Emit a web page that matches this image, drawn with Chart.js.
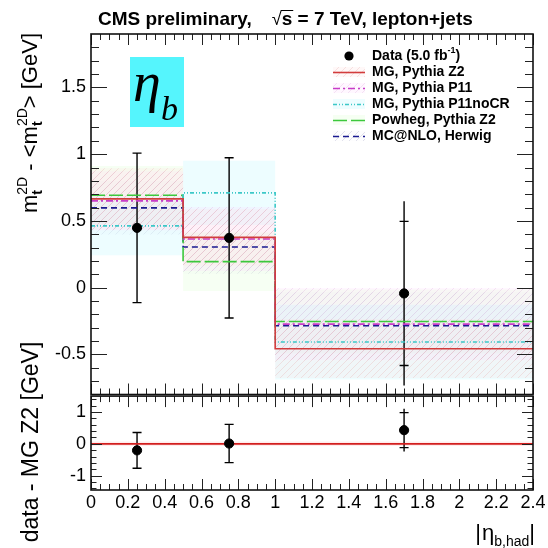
<!DOCTYPE html>
<html><head><meta charset="utf-8">
<script src="https://cdn.jsdelivr.net/npm/chart.js@4.4.1/dist/chart.umd.min.js"></script>
<style>html,body{margin:0;padding:0;background:#fff;}canvas{display:block;}</style>
</head><body>
<canvas id="c" width="548" height="548" style="width:548px;height:548px"></canvas>
<script>
// ---------------- data ----------------
const binEdges = [0, 0.5, 1.0, 2.4];
const xTickValues = [0, 0.2, 0.4, 0.6, 0.8, 1, 1.2, 1.4, 1.6, 1.8, 2, 2.2, 2.4];
const yTopTicks = [-0.5, 0, 0.5, 1, 1.5];
const yBotTicks = [-1, 0, 1];

const dataX = [0.25, 0.75, 1.70];
const dataY = [0.448, 0.373, -0.043];
const dataErrStat = [0.56, 0.60, 0.54];
const dataErrTot = [0.56, 0.60, 0.69];

const modelNames = ["MG, Pythia Z2", "MG, Pythia P11", "MG, Pythia P11noCR", "Powheg, Pythia Z2", "MC@NLO, Herwig"];
const mgZ2 = [0.665, 0.377, -0.457];
const mgZ2Unc = [0.23, 0.21, 0.22];
const mgP11 = [0.650, 0.365, -0.273];
const mgP11Unc = [0.22, 0.24, 0.27];
const mgP11noCR = [0.463, 0.710, -0.407];
const mgP11noCRUnc = [0.22, 0.24, 0.28];
const powhegZ2 = [0.692, 0.195, -0.253];
const powhegZ2Unc = [0.22, 0.22, 0.24];
const mcnloHerwig = [0.598, 0.305, -0.285];
const mcnloHerwigUnc = [0.20, 0.20, 0.25];

const diffY = [-0.205, 0.01, 0.43];
const diffErrStat = [0.56, 0.60, 0.55];
const diffErrTot = [0.56, 0.60, 0.67];
const refValue = 0;
const refUnc = 0.07;

// ---------------- styles ----------------
const F = '"Liberation Sans", Arial, Helvetica, sans-serif';
function hatch(bg, line) {
  const c = document.createElement('canvas'); c.width = 7; c.height = 7;
  const g = c.getContext('2d');
  g.fillStyle = bg; g.fillRect(0, 0, 7, 7);
  if (line) { g.strokeStyle = line; g.lineWidth = 1;
    g.beginPath(); g.moveTo(-1, 8); g.lineTo(8, -1); g.moveTo(-1, 1); g.lineTo(1, -1); g.moveTo(6, 8); g.lineTo(8, 6); g.stroke(); }
  return document.getElementById('c').getContext('2d').createPattern(c, 'repeat');
}
const models = [
  {name: modelNames[0], vals: mgZ2, unc: mgZ2Unc, color: '#d23c3c', dash: [], band: hatch('rgba(255,220,220,0.2)', 'rgba(225,160,160,0.28)')},
  {name: modelNames[1], vals: mgP11, unc: mgP11Unc, color: '#c83cc8', dash: [7, 3, 2, 3], band: hatch('rgba(255,215,255,0.2)', 'rgba(210,160,210,0.25)')},
  {name: modelNames[2], vals: mgP11noCR, unc: mgP11noCRUnc, color: '#3cc8c8', dash: [4, 2, 1, 2, 1, 2], band: hatch('rgba(215,250,255,0.45)', null)},
  {name: modelNames[3], vals: powhegZ2, unc: powhegZ2Unc, color: '#3cc83c', dash: [14, 4], band: hatch('rgba(230,255,220,0.35)', null)},
  {name: modelNames[4], vals: mcnloHerwig, unc: mcnloHerwigUnc, color: '#1a1a90', dash: [6, 4], band: hatch('rgba(235,235,250,0.12)', 'rgba(160,160,195,0.3)')}
];

function steps(vals) {
  const pts = vals.map((v, i) => ({x: binEdges[i], y: v}));
  pts.push({x: binEdges[binEdges.length - 1], y: vals[vals.length - 1]});
  return pts;
}

const datasets = [];
datasets.push({label: 'Data', data: dataX.map((x, i) => ({x, y: dataY[i]})), yAxisID: 'yTop', showLine: false,
  pointRadius: 4.6, pointBackgroundColor: '#000', pointBorderColor: '#000', order: 0});
datasets.push({label: 'diff', data: dataX.map((x, i) => ({x, y: diffY[i]})), yAxisID: 'yBot', showLine: false,
  pointRadius: 4.6, pointBackgroundColor: '#000', pointBorderColor: '#000', order: 0});
models.forEach(m => {
  datasets.push({label: m.name + ' up', data: steps(m.vals.map((v, i) => v + m.unc[i])), yAxisID: 'yTop', stepped: true,
    borderWidth: 0, borderColor: 'transparent', pointRadius: 0, fill: false, order: 2});
  datasets.push({label: m.name + ' down', data: steps(m.vals.map((v, i) => v - m.unc[i])), yAxisID: 'yTop', stepped: true,
    borderWidth: 0, borderColor: 'transparent', pointRadius: 0, fill: '-1', backgroundColor: m.band, order: 2});
});
models.forEach(m => {
  datasets.push({label: m.name, data: steps(m.vals), yAxisID: 'yTop', stepped: true, borderColor: m.color,
    borderWidth: 1.6, borderDash: m.dash, pointRadius: 0, fill: false, order: 1});
});
datasets.push({label: 'ref up', data: [{x: 0, y: refValue + refUnc}, {x: 2.4, y: refValue + refUnc}], yAxisID: 'yBot',
  borderWidth: 0, borderColor: 'transparent', pointRadius: 0, fill: false, order: 2});
datasets.push({label: 'ref down', data: [{x: 0, y: refValue - refUnc}, {x: 2.4, y: refValue - refUnc}], yAxisID: 'yBot',
  borderWidth: 0, borderColor: 'transparent', pointRadius: 0, fill: '-1', backgroundColor: 'rgba(255,200,200,0.35)', order: 2});
datasets.push({label: 'ref', data: [{x: 0, y: refValue}, {x: 2.4, y: refValue}], yAxisID: 'yBot',
  borderWidth: 1.6, borderColor: '#d21e1e', pointRadius: 0, fill: false, order: 1});

// ---------------- helpers ----------------
function errBars(ctx, xs, ys, xArr, yArr, stat, tot) {
  ctx.save(); ctx.strokeStyle = '#000'; ctx.lineWidth = 1.4;
  for (let i = 0; i < xArr.length; i++) {
    const px = xs.getPixelForValue(xArr[i]);
    ctx.beginPath();
    ctx.moveTo(px, ys.getPixelForValue(yArr[i] + tot[i]));
    ctx.lineTo(px, ys.getPixelForValue(yArr[i] - tot[i]));
    [yArr[i] + stat[i], yArr[i] - stat[i]].forEach(v => {
      const py = ys.getPixelForValue(v); ctx.moveTo(px - 4.5, py); ctx.lineTo(px + 4.5, py);
    });
    ctx.stroke();
  }
  ctx.restore();
}
function panel(ctx, xs, ys, top, bottom, yMajor, yStep, yMaj, yMin, xMaj, xMin) {
  const L = xs.left, R = xs.right;
  ctx.save(); ctx.strokeStyle = '#222'; ctx.lineWidth = 1;
  ctx.beginPath();
  yMajor.forEach(v => { const p = Math.round(ys.getPixelForValue(v)) + 0.5;
    ctx.moveTo(L, p); ctx.lineTo(L + yMaj, p); ctx.moveTo(R, p); ctx.lineTo(R - yMaj, p); });
  for (let k = Math.ceil(ys.min / yStep); k * yStep <= ys.max + 1e-9; k++) {
    const v = k * yStep; if (yMajor.some(m => Math.abs(m - v) < 1e-6)) continue;
    const p = Math.round(ys.getPixelForValue(v)) + 0.5;
    if (p < top + 1 || p > bottom - 1) continue;
    ctx.moveTo(L, p); ctx.lineTo(L + yMin, p); ctx.moveTo(R, p); ctx.lineTo(R - yMin, p);
  }
  xTickValues.forEach(v => { const p = Math.round(xs.getPixelForValue(v)) + 0.5;
    ctx.moveTo(p, bottom); ctx.lineTo(p, bottom - xMaj); ctx.moveTo(p, top); ctx.lineTo(p, top + xMaj); });
  for (let k = 0; k * 0.05 <= 2.4 + 1e-9; k++) {
    if (k % 4 === 0) continue;
    const p = Math.round(xs.getPixelForValue(k * 0.05)) + 0.5;
    ctx.moveTo(p, bottom); ctx.lineTo(p, bottom - xMin); ctx.moveTo(p, top); ctx.lineTo(p, top + xMin);
  }
  ctx.stroke();
  ctx.lineWidth = 1.6; ctx.strokeStyle = '#111';
  ctx.strokeRect(L, top, R - L, bottom - top);
  ctx.restore();
}
function rich(ctx, parts, x, y, draw) {
  let cx = x;
  parts.forEach(p => {
    if (p.stack) {
      let w = 0;
      p.stack.forEach(s => { ctx.font = (s.bold ? 'bold ' : '') + s.size + 'px ' + F;
        if (draw) ctx.fillText(s.t, cx, y + s.dy); w = Math.max(w, ctx.measureText(s.t).width); });
      cx += w;
    } else {
      ctx.font = (p.bold ? 'bold ' : '') + (p.italic ? 'italic ' : '') + p.size + 'px ' + (p.family || F);
      if (draw) ctx.fillText(p.t, cx, y + (p.dy || 0));
      cx += ctx.measureText(p.t).width + (p.after || 0);
    }
  });
  return cx - x;
}

const decor = {
  id: 'decor',
  beforeDatasetsDraw(chart) {
    const ctx = chart.ctx, xs = chart.scales.x;
    errBars(ctx, xs, chart.scales.yTop, dataX, dataY, dataErrStat, dataErrTot);
    errBars(ctx, xs, chart.scales.yBot, dataX, diffY, diffErrStat, diffErrTot);
  },
  afterDraw(chart) {
    const ctx = chart.ctx, xs = chart.scales.x, yt = chart.scales.yTop, yb = chart.scales.yBot;
    panel(ctx, xs, yt, yt.top, yt.bottom, yTopTicks, 0.1, 16, 8, 11, 6);
    panel(ctx, xs, yb, yb.getPixelForValue(1.5), yb.bottom, yBotTicks, 0.2, 11, 5.5, 11, 6);
    ctx.save();
    ctx.fillStyle = '#000'; ctx.textBaseline = 'alphabetic'; ctx.textAlign = 'left';
    // title
    const TS = 19, gap = 20, tx0 = 98;
    const tp = [
      {t: 'CMS preliminary,', size: TS, bold: true, after: gap},
      {t: '\u221A', size: 18},
      {t: 's', size: TS, bold: true},
      {t: ' = 7 TeV, lepton+jets', size: TS, bold: true}
    ];
    rich(ctx, tp, tx0, 25, true);
    ctx.font = 'bold ' + TS + 'px ' + F;
    const sx = tx0 + ctx.measureText('CMS preliminary,').width + gap;
    ctx.font = '18px ' + F; const rw = ctx.measureText('\u221A').width;
    ctx.font = 'bold ' + TS + 'px ' + F; const swd = ctx.measureText('s').width;
    ctx.lineWidth = 1; ctx.strokeStyle = '#000';
    ctx.beginPath(); ctx.moveTo(sx + rw - 1, 10.5); ctx.lineTo(sx + rw + swd + 1, 10.5); ctx.stroke();

    // y titles (rotated)
    const up = [
      {t: 'm', size: 22}, {stack: [{t: 't', size: 14, dy: 5, bold: true}, {t: '2D', size: 14, dy: -10}]},
      {t: ' - <m', size: 22}, {stack: [{t: 't', size: 14, dy: 5, bold: true}, {t: '2D', size: 14, dy: -10}]},
      {t: '> [GeV]', size: 22}
    ];
    const wu = rich(ctx, up, 0, 0, false);
    ctx.save(); ctx.translate(37, yt.top - 1 + wu); ctx.rotate(-Math.PI / 2);
    rich(ctx, up, 0, 0, true); ctx.restore();
    const lo = [{t: 'data - MG Z2 [GeV]', size: 23}];
    const wl = rich(ctx, lo, 0, 0, false);
    ctx.save(); ctx.translate(38, 442 + wl / 2); ctx.rotate(-Math.PI / 2);
    rich(ctx, lo, 0, 0, true); ctx.restore();

    // x title |eta_b,had|
    const xp = [{t: '|', size: 22, after: 1}, {t: '\u03B7', size: 22}, {t: 'b,had', size: 14, dy: 6}, {t: '|', size: 22}];
    const wx = rich(ctx, xp, 0, 0, false);
    rich(ctx, xp, 535 - wx, 540, true);

    // eta_b label box
    ctx.fillStyle = '#55f5fd'; ctx.fillRect(130, 57, 54, 70);
    ctx.fillStyle = '#000';
    ctx.font = 'italic 56px "Liberation Serif", "DejaVu Serif", serif'; ctx.fillText('\u03B7', 133, 101);
    ctx.font = 'italic 34px "Liberation Serif", "DejaVu Serif", serif'; ctx.fillText('b', 161, 120);

    // legend
    const lx = 333, tx = 372;
    let ly = 56;
    ctx.beginPath(); ctx.arc(349, ly, 4.6, 0, Math.PI * 2); ctx.fill();
    ctx.textBaseline = 'middle';
    rich(ctx, [{t: 'Data (5.0 fb', size: 14, bold: true}, {t: '-1', size: 9, bold: true, dy: -5}, {t: ')', size: 14, bold: true}], tx, ly, true);
    models.forEach((m, i) => {
      const y = 72 + i * 16;
      ctx.fillStyle = m.band; ctx.fillRect(lx, y - 5, 32, 10);
      ctx.strokeStyle = m.color; ctx.lineWidth = 1.6; ctx.setLineDash(m.dash);
      ctx.beginPath(); ctx.moveTo(lx, y + 0.5); ctx.lineTo(lx + 32, y + 0.5); ctx.stroke(); ctx.setLineDash([]);
      ctx.fillStyle = '#000'; ctx.font = 'bold 14px ' + F; ctx.fillText(m.name, tx, y);
    });
    ctx.restore();
  }
};

const fmt = v => String(Math.round(v * 100) / 100);
const yCommon = (ticks) => ({
  type: 'linear', position: 'left', stack: 'panels',
  grid: {display: false, drawTicks: false}, border: {display: false},
  ticks: {font: {size: 18, family: F}, color: '#000', padding: 5, callback: v => fmt(v)},
  afterBuildTicks: s => { s.ticks = ticks.map(v => ({value: v})); },
  afterFit: s => { s.width = 91; }
});

new Chart(document.getElementById('c'), {
  type: 'line',
  data: {datasets},
  options: {
    responsive: false, animation: false, devicePixelRatio: 1,
    layout: {padding: {left: 0, right: 15, top: 34, bottom: 0}},
    plugins: {legend: {display: false}, tooltip: {enabled: false}, filler: {drawTime: 'beforeDatasetsDraw'}},
    scales: {
      x: {type: 'linear', min: 0, max: 2.4, position: 'bottom',
        grid: {display: false, drawTicks: false}, border: {display: false},
        ticks: {font: {size: 18, family: F}, color: '#000', padding: 2, maxRotation: 0, autoSkip: false, callback: v => fmt(v)},
        afterBuildTicks: s => { s.ticks = xTickValues.map(v => ({value: v})); },
        afterFit: s => { s.height = 58; }},
      yBot: Object.assign(yCommon(yBotTicks), {min: -1.45, max: 1.55, stackWeight: 95.5}),
      yTop: Object.assign(yCommon(yTopTicks), {min: -0.8, max: 1.9, stackWeight: 360.5})
    }
  },
  plugins: [decor]
});
</script>
</body></html>
